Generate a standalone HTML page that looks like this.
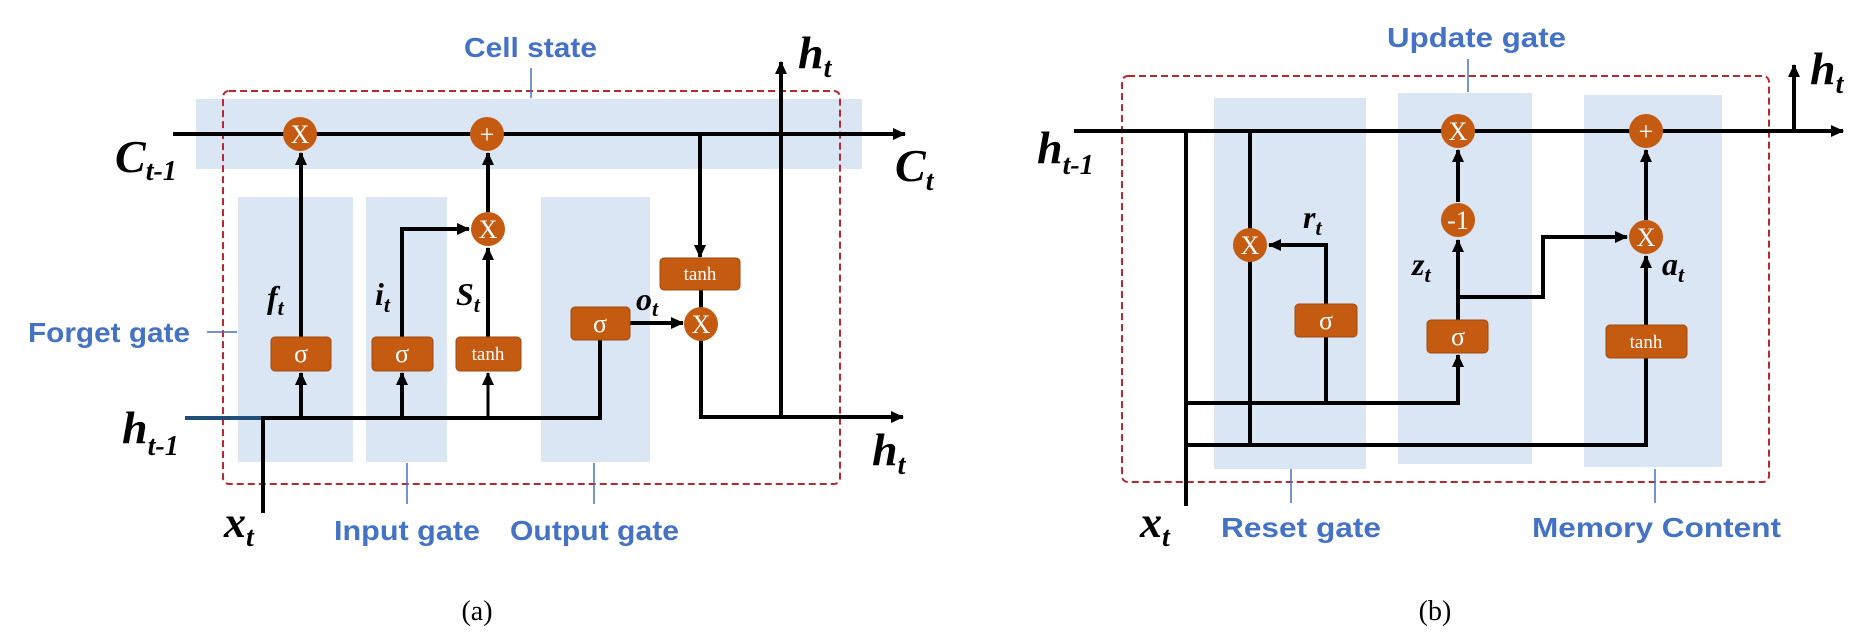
<!DOCTYPE html>
<html><head><meta charset="utf-8"><style>html,body{margin:0;padding:0;background:#fff}svg{display:block}</style></head>
<body>
<svg width="1867" height="642" viewBox="0 0 1867 642" xmlns="http://www.w3.org/2000/svg">
<defs>
<marker id="ar" markerUnits="userSpaceOnUse" markerWidth="14" markerHeight="14" refX="12" refY="7" orient="auto"><path d="M0,1 L13,7 L0,13 z" fill="#000"/></marker>
</defs>
<style>
.bl{stroke:#000;stroke-width:4;fill:none}
.th{stroke:#000;stroke-width:3;fill:none}
.band{fill:#DAE6F3}
.bx{fill:#C55A11;stroke:#A04A10;stroke-width:1}
.ci{fill:#C55A11}
.ct{fill:#fff;font-family:"Liberation Serif",serif;font-size:26px;text-anchor:middle}
.bt{fill:#fff;font-family:"Liberation Serif",serif;text-anchor:middle}
.lab{fill:#4472C4;font-family:"Liberation Sans",sans-serif;font-weight:bold;font-size:28px}
.tick{stroke:#4472C4;stroke-width:1.5}
.m{font-family:"Liberation Serif",serif;font-style:italic;font-weight:bold;fill:#000}
</style>

<!-- ===== Panel (a) ===== -->
<rect class="band" x="196" y="99" width="666" height="70"/>
<rect class="band" x="238" y="197" width="115" height="265"/>
<rect class="band" x="366" y="197" width="81" height="265"/>
<rect class="band" x="541" y="197" width="109" height="265"/>
<rect x="223" y="91" width="617" height="393" rx="6" fill="none" stroke="#B8282E" stroke-width="2" stroke-dasharray="7,4"/>

<line class="tick" x1="531" y1="68" x2="531" y2="98"/>
<line class="tick" x1="207" y1="332" x2="237" y2="332"/>
<line class="tick" x1="407" y1="463" x2="407" y2="504"/>
<line class="tick" x1="594" y1="463" x2="594" y2="504"/>

<text class="lab" x="464" y="57" textLength="133" lengthAdjust="spacingAndGlyphs">Cell state</text>
<text class="lab" x="28" y="342" textLength="162" lengthAdjust="spacingAndGlyphs">Forget gate</text>
<text class="lab" x="334" y="540" textLength="146" lengthAdjust="spacingAndGlyphs">Input gate</text>
<text class="lab" x="510" y="540" textLength="169" lengthAdjust="spacingAndGlyphs">Output gate</text>

<line class="bl" x1="173" y1="134" x2="905" y2="134" marker-end="url(#ar)"/>
<line class="bl" x1="301" y1="418" x2="301" y2="373" marker-end="url(#ar)"/>
<line class="bl" x1="301" y1="337" x2="301" y2="153" marker-end="url(#ar)"/>
<line class="bl" x1="402" y1="418" x2="402" y2="373" marker-end="url(#ar)"/>
<polyline class="bl" points="402,337 402,229 469,229" marker-end="url(#ar)"/>
<line class="th" x1="488" y1="418" x2="488" y2="373" marker-end="url(#ar)"/>
<line class="bl" x1="488" y1="337" x2="488" y2="248" marker-end="url(#ar)"/>
<line class="bl" x1="488" y1="212" x2="488" y2="153" marker-end="url(#ar)"/>
<line x1="185" y1="418" x2="265" y2="418" stroke="#1F4E79" stroke-width="4"/>
<polyline class="bl" points="263,418 600,418 600,340"/>
<line class="bl" x1="263" y1="416" x2="263" y2="513"/>
<line class="bl" x1="630" y1="323" x2="683" y2="323" marker-end="url(#ar)"/>
<line class="bl" x1="700" y1="134" x2="700" y2="257" marker-end="url(#ar)"/>
<line class="bl" x1="701" y1="290" x2="701" y2="310"/>
<polyline class="bl" points="701,338 701,417 903,417" marker-end="url(#ar)"/>
<line class="bl" x1="781" y1="417" x2="781" y2="62" marker-end="url(#ar)"/>

<rect class="bx" x="271" y="337" width="60" height="34" rx="4"/><text class="bt" x="301" y="362" font-size="26">σ</text>
<rect class="bx" x="372" y="337" width="61" height="34" rx="4"/><text class="bt" x="402" y="362" font-size="26">σ</text>
<rect class="bx" x="456" y="337" width="65" height="34" rx="4"/><text class="bt" x="488" y="360" font-size="19">tanh</text>
<rect class="bx" x="571" y="307" width="59" height="33" rx="4"/><text class="bt" x="600" y="332" font-size="26">σ</text>
<rect class="bx" x="660" y="258" width="80" height="32" rx="4"/><text class="bt" x="700" y="280" font-size="19">tanh</text>
<circle class="ci" cx="300" cy="134" r="17"/><text class="ct" x="300" y="143">X</text>
<circle class="ci" cx="487" cy="134" r="17"/><text class="ct" x="487" y="143" font-size="30">+</text>
<circle class="ci" cx="488" cy="229" r="17"/><text class="ct" x="488" y="238">X</text>
<circle class="ci" cx="701" cy="324" r="17"/><text class="ct" x="701" y="333">X</text>

<text class="m" x="115" y="172" font-size="46">C<tspan font-size="28" dy="8">t-1</tspan></text>
<text class="m" x="895" y="181" font-size="46">C<tspan font-size="28" dy="9">t</tspan></text>
<text class="m" x="798" y="68" font-size="46">h<tspan font-size="28" dy="9">t</tspan></text>
<text class="m" x="872" y="465" font-size="46">h<tspan font-size="28" dy="9">t</tspan></text>
<text class="m" x="122" y="443" font-size="46">h<tspan font-size="28" dy="12">t-1</tspan></text>
<text class="m" x="224" y="537" font-size="44">x<tspan font-size="28" dy="9">t</tspan></text>
<text class="m" x="267" y="308" font-size="32">f<tspan font-size="22" dy="7">t</tspan></text>
<text class="m" x="375" y="305" font-size="32">i<tspan font-size="22" dy="7">t</tspan></text>
<text class="m" x="456" y="305" font-size="32">S<tspan font-size="22" dy="7">t</tspan></text>
<text class="m" x="636" y="310" font-size="32">o<tspan font-size="22" dy="6">t</tspan></text>

<text x="477" y="620" font-family="Liberation Serif,serif" font-size="28" text-anchor="middle">(a)</text>

<!-- ===== Panel (b) ===== -->
<rect class="band" x="1214" y="98" width="152" height="371"/>
<rect class="band" x="1398" y="93" width="134" height="371"/>
<rect class="band" x="1584" y="95" width="138" height="372"/>
<rect x="1122" y="76" width="647" height="406" rx="6" fill="none" stroke="#B8282E" stroke-width="2" stroke-dasharray="7,4"/>

<line class="tick" x1="1468" y1="59" x2="1468" y2="92"/>
<line class="tick" x1="1291" y1="469" x2="1291" y2="503"/>
<line class="tick" x1="1655" y1="469" x2="1655" y2="503"/>
<text class="lab" x="1387" y="47" textLength="179" lengthAdjust="spacingAndGlyphs">Update gate</text>
<text class="lab" x="1221" y="537" textLength="160" lengthAdjust="spacingAndGlyphs">Reset gate</text>
<text class="lab" x="1532" y="537" textLength="249" lengthAdjust="spacingAndGlyphs">Memory Content</text>

<line class="bl" x1="1074" y1="131" x2="1843" y2="131" marker-end="url(#ar)"/>
<line class="bl" x1="1794" y1="131" x2="1794" y2="65" marker-end="url(#ar)"/>
<line class="bl" x1="1186" y1="129" x2="1186" y2="506"/>
<line class="bl" x1="1250" y1="129" x2="1250" y2="445"/>
<polyline class="bl" points="1186,403 1458,403 1458,355" marker-end="url(#ar)"/>
<polyline class="bl" points="1186,445 1646,445 1646,358"/>
<polyline class="bl" points="1326,403 1326,245 1269,245" marker-end="url(#ar)"/>
<line class="bl" x1="1458" y1="320" x2="1458" y2="240" marker-end="url(#ar)"/>
<line class="bl" x1="1458" y1="202" x2="1458" y2="150" marker-end="url(#ar)"/>
<polyline class="bl" points="1458,297 1543,297 1543,237 1627,237" marker-end="url(#ar)"/>
<line class="bl" x1="1646" y1="325" x2="1646" y2="256" marker-end="url(#ar)"/>
<line class="bl" x1="1646" y1="220" x2="1646" y2="150" marker-end="url(#ar)"/>

<rect class="bx" x="1295" y="304" width="62" height="33" rx="4"/><text class="bt" x="1326" y="329" font-size="26">σ</text>
<rect class="bx" x="1427" y="320" width="61" height="33" rx="4"/><text class="bt" x="1458" y="345" font-size="26">σ</text>
<rect class="bx" x="1606" y="325" width="81" height="33" rx="4"/><text class="bt" x="1646" y="348" font-size="19">tanh</text>

<circle class="ci" cx="1250" cy="245" r="17"/><text class="ct" x="1250" y="254">X</text>
<circle class="ci" cx="1458" cy="131" r="17"/><text class="ct" x="1458" y="140">X</text>
<circle class="ci" cx="1458" cy="220" r="17"/><text class="ct" x="1458" y="229" font-size="22" font-family="Liberation Sans,sans-serif">-1</text>
<circle class="ci" cx="1646" cy="237" r="17"/><text class="ct" x="1646" y="246">X</text>
<circle class="ci" cx="1646" cy="131" r="17"/><text class="ct" x="1646" y="140" font-size="30">+</text>

<text class="m" x="1037" y="163" font-size="46">h<tspan font-size="28" dy="11">t-1</tspan></text>
<text class="m" x="1810" y="84" font-size="46">h<tspan font-size="28" dy="9">t</tspan></text>
<text class="m" x="1140" y="537" font-size="44">x<tspan font-size="28" dy="9">t</tspan></text>
<text class="m" x="1303" y="228" font-size="32">r<tspan font-size="22" dy="7">t</tspan></text>
<text class="m" x="1412" y="275" font-size="32">z<tspan font-size="22" dy="7">t</tspan></text>
<text class="m" x="1662" y="275" font-size="32">a<tspan font-size="22" dy="7">t</tspan></text>

<text x="1435" y="620" font-family="Liberation Serif,serif" font-size="28" text-anchor="middle">(b)</text>
</svg>
</body></html>
